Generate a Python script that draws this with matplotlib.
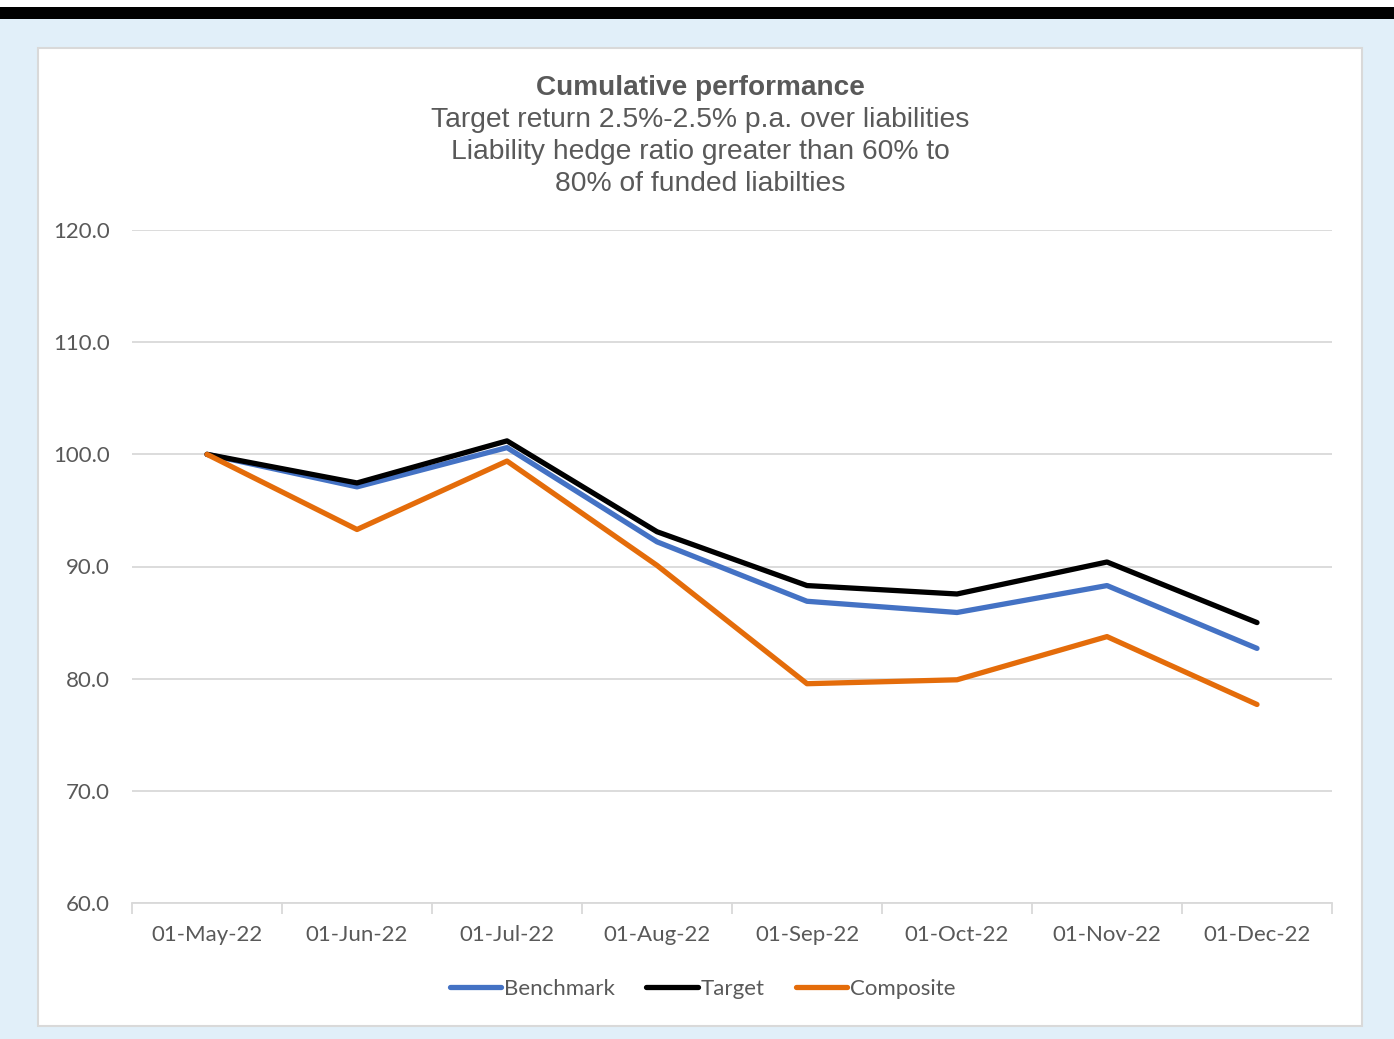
import matplotlib
matplotlib.use('Agg')
import matplotlib.pyplot as plt
from matplotlib.patches import Rectangle

dates = ['01-May-22', '01-Jun-22', '01-Jul-22', '01-Aug-22',
         '01-Sep-22', '01-Oct-22', '01-Nov-22', '01-Dec-22']
benchmark = [100.0, 97.1, 100.6, 92.2, 86.9, 85.9, 88.3, 82.7]
target = [100.0, 97.45, 101.2, 93.1, 88.3, 87.55, 90.4, 85.0]
composite = [100.0, 93.3, 99.4, 90.1, 79.55, 79.9, 83.75, 77.7]
yticks = [60, 70, 80, 90, 100, 110, 120]

W, H = 1394, 1039
fig = plt.figure(figsize=(W / 100, H / 100), dpi=100, facecolor='#E1EFF9')

# white strip + black bar on top, white panel with grey border
fig.patches.append(Rectangle((0, 1 - 7 / H), 1, 7 / H, transform=fig.transFigure,
                             facecolor='white', edgecolor='none', zorder=-2))
fig.patches.append(Rectangle((0, 1 - 19 / H), 1, 12 / H, transform=fig.transFigure,
                             facecolor='black', edgecolor='none', zorder=-2))
fig.patches.append(Rectangle((38 / W, 1 - 1026 / H), 1324 / W, 978 / H,
                             transform=fig.transFigure, facecolor='white',
                             edgecolor='#D9D9D9', linewidth=1.5, zorder=-2))

ax = fig.add_axes([132 / W, 1 - 903 / H, 1200 / W, 673 / H])
ax.set_zorder(2)
ax.set_facecolor('none')
x = range(len(dates))
ax.plot(x, benchmark, color='#4472C4', lw=3.8, label='Benchmark', solid_capstyle='round', zorder=3)
ax.plot(x, target, color='black', lw=3.8, label='Target', solid_capstyle='round', zorder=4)
ax.plot(x, composite, color='#E46C0A', lw=3.8, label='Composite', solid_capstyle='round', zorder=5)

ax.set_xlim(-0.5, len(dates) - 0.5)
ax.set_ylim(60, 120)
ax.set_yticks(yticks)
ax.set_yticklabels([f'{v:.1f}' for v in yticks])
ax.grid(axis='y', color='#D9D9D9', lw=1.3)
ax.set_axisbelow(True)
ax.set_xticks([i - 0.5 for i in range(len(dates) + 1)], minor=False)
ax.set_xticklabels([''] * (len(dates) + 1))
ax.set_xticks(list(x), minor=True)
ax.set_xticklabels(dates, minor=True)
ax.tick_params(axis='x', which='major', length=8, color='#D9D9D9', width=1.3, direction='out')
ax.tick_params(axis='x', which='minor', length=0, pad=16)
ax.tick_params(axis='y', length=0, pad=16)
for lab in ax.get_xticklabels(minor=True) + ax.get_yticklabels():
    lab.set_family('Lato')
    lab.set_fontsize(16)
    lab.set_color('#595959')
for s in ['top', 'right', 'left']:
    ax.spines[s].set_visible(False)
ax.spines['bottom'].set_color('#D9D9D9')
ax.spines['bottom'].set_linewidth(1.3)

fig.text(700 / W, 1 - 88 / H, 'Cumulative performance', ha='center', va='center',
         family='Liberation Sans', fontsize=20.2, fontweight='bold', color='#595959')
fig.text(700 / W, 1 - 152 / H,
         'Target return 2.5%-2.5% p.a. over liabilities\nLiability hedge ratio greater than 60% to\n80% of funded liabilties',
         ha='center', va='center', family='Liberation Sans', fontsize=20.3,
         color='#595959', linespacing=1.3)

leg = fig.legend(loc='center', bbox_to_anchor=(703 / W, 1 - 989 / H), ncol=3, frameon=False,
                 prop={'family': 'Lato', 'size': 16}, handlelength=2.3, handletextpad=0.15,
                 columnspacing=1.4)
for t in leg.get_texts():
    t.set_color('#595959')

plt.savefig('out.png', dpi=100, facecolor=fig.get_facecolor())
